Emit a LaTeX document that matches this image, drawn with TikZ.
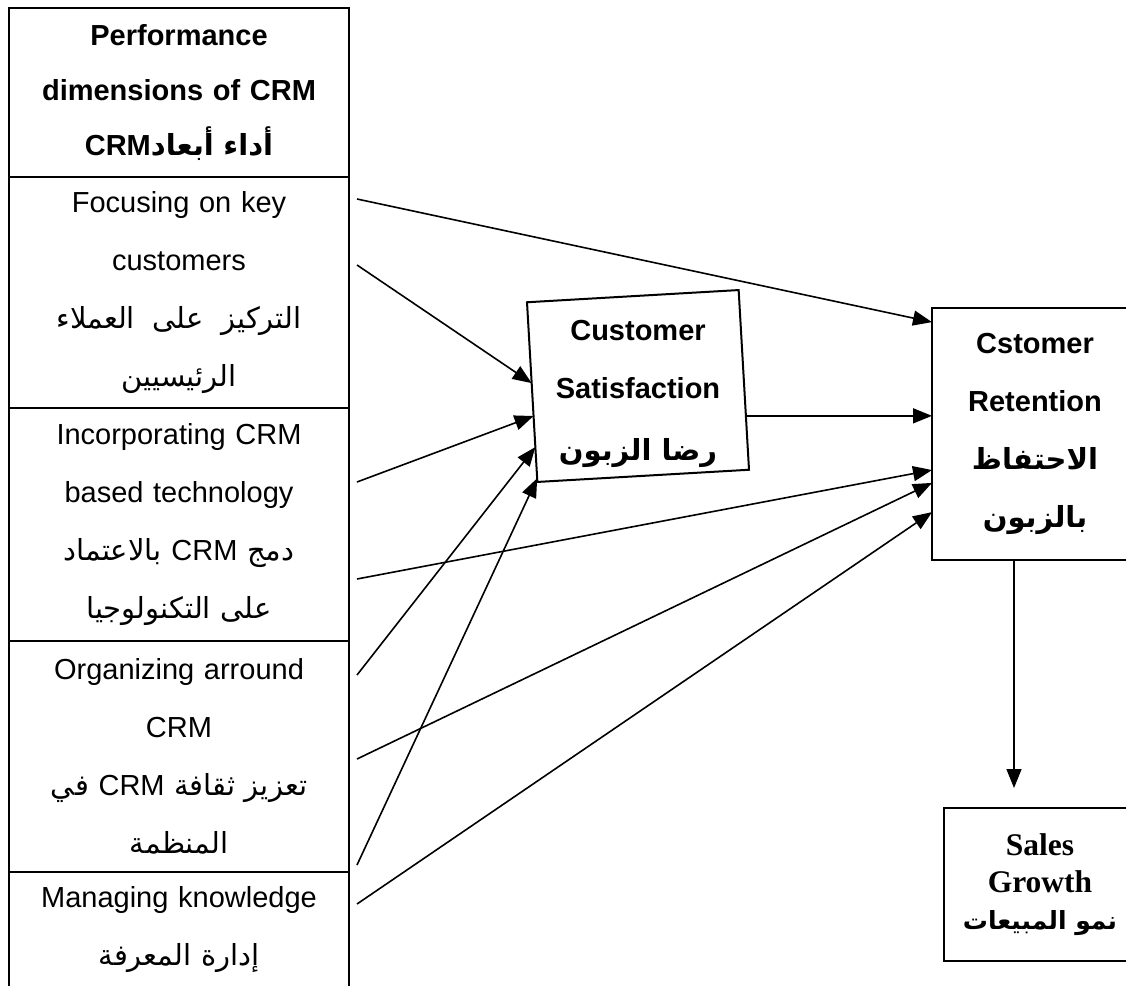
\documentclass[tikz,border=0pt]{standalone}
\usepackage{fontspec}
\setmainfont{Liberation Sans}
\newfontfamily\arabicfont[Script=Arabic]{DejaVu Sans}
\newfontfamily\latinfont{Liberation Sans}
\newfontfamily\timesfont{Liberation Serif}
\TeXXeTstate=1
\newcommand{\artext}[1]{{\arabicfont\beginR #1\endR}}
\usetikzlibrary{positioning, calc, arrows.meta}

\begin{document}
\begin{tikzpicture}[x = 1pt, y = -1pt,
		cell/.style = {draw, line width = 2.5pt, outer sep = 0pt, inner sep = 0pt, minimum width = 340pt, text width = 330pt, align = center, font = \fontsize{29}{58}\selectfont},
		outcome/.style = {draw, line width = 2pt, outer sep = 0pt},
		boxtext/.style = {align = center, font = \fontsize{29}{58}\selectfont\bfseries},
		link/.style = {line width = 1.6pt, -{Triangle[length = 19pt, width = 15pt]}}]
	\useasboundingbox (0,0) rectangle (1126,985);
	\clip (0,0) rectangle (1126,985);
	\node [cell, minimum height = 169pt, font = \fontsize{29}{55}\selectfont\bfseries] (header) at (179,92.5) {Performance\\ dimensions of CRM\\ \artext{أداء أبعاد{\latinfont CRM}}};
	\node [cell, minimum height = 231pt, below = 0pt of header] (focus) {Focusing on key\\ customers\\ \artext{التركيز\hspace{8pt} على\hspace{8pt} العملاء}\\ \artext{الرئيسيين}};
	\node [cell, minimum height = 233pt, below = 0pt of focus] (tech) {Incorporating CRM\\ based technology\\ \artext{دمج {\latinfont CRM} بالاعتماد}\\ \artext{على التكنولوجيا}};
	\node [cell, minimum height = 231pt, below = 0pt of tech] (organize) {Organizing arround\\ CRM\\ \artext{تعزيز ثقافة {\latinfont CRM} في}\\ \artext{المنظمة}};
	\node [cell, minimum height = 115pt, below = 0pt of organize] (knowledge) {Managing knowledge\\ \artext{إدارة المعرفة}};
	\node [outcome, rotate = 3.3, minimum width = 212pt, minimum height = 180pt] (sat) at (638,386) {};
	\node [boxtext] (sattext) at ([yshift = -8pt]sat.center) {Customer\\ Satisfaction\\[4pt] \artext{رضا الزبون}};
	\node [outcome, boxtext, minimum width = 206pt, minimum height = 252pt] (retain) at (1035,434) {Cstomer\\ Retention\\ \artext{الاحتفاظ}\\ \artext{بالزبون}};
	\node [outcome, align = center, minimum width = 192pt, minimum height = 153pt, font = \timesfont\fontsize{31.5}{37}\selectfont\bfseries] (sales) at (1040,884.5) {Sales\\ Growth\\ \artext{\fontsize{25}{37}\selectfont نمو المبيعات}};
	\foreach \name/\ypos in {s1/199, s2/265, s3/482, s4/579, s5/675, s6/759, s7/865, s8/904}
		\coordinate (\name) at (357,\ypos);
	\foreach \from/\to/\pos in {s1/retain/0.056, s2/sat/0.45, s3/sat/0.633, s4/retain/0.643, s5/sat/0.806, s6/retain/0.694, s7/sat/0.98, s8/retain/0.81}
		\draw [link] (\from) -- ($(\to.north west)!\pos!(\to.south west)$);
	\coordinate (satout) at ($(sat.north east)!0.7!(sat.south east)$);
	\draw [link] (satout) -- (satout -| retain.west);
	\coordinate (salestop) at (1014,788);
	\draw [link] (retain.south -| salestop) -- (salestop);
\end{tikzpicture}
\end{document}
